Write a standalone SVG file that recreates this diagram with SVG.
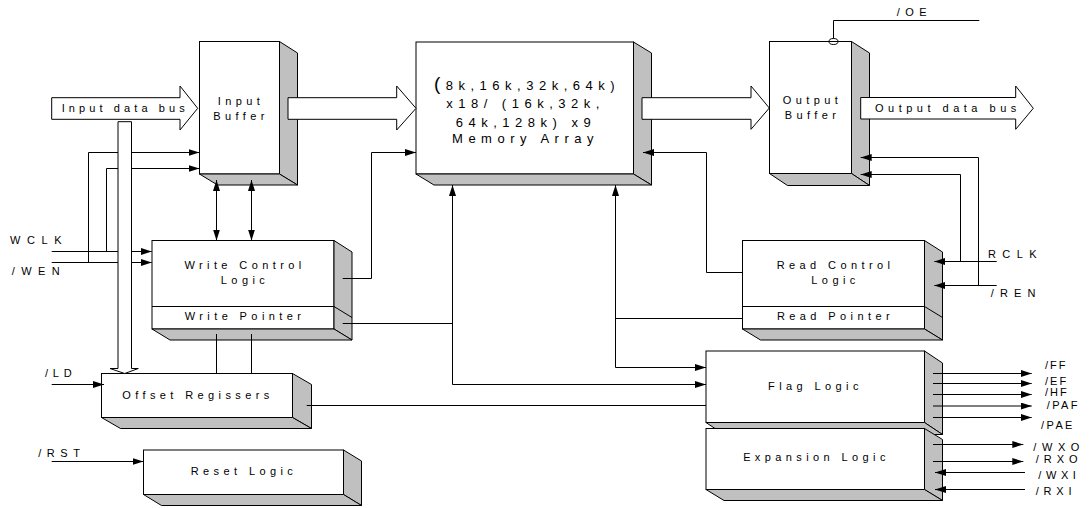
<svg xmlns="http://www.w3.org/2000/svg" width="1089" height="508" viewBox="0 0 1089 508">
<style>
.f{fill:#fff;stroke:#000;stroke-width:1}
.s{fill:#c0c0c0;stroke:#000;stroke-width:1}
.c{fill:none;stroke:#000;stroke-width:1}
.bus{fill:#fff;stroke:#000;stroke-width:1}
text{font-family:"Liberation Sans",Arial,sans-serif;font-size:11px;fill:#000}
.t{text-anchor:middle;letter-spacing:4.4px}
.m{font-size:13px;text-anchor:middle;letter-spacing:5.5px}
</style>
<defs>
<marker id="a" markerUnits="userSpaceOnUse" markerWidth="12" markerHeight="8" refX="11" refY="3.5" orient="auto-start-reverse">
<path d="M0,0 L11,3.5 L0,7 z" fill="#000"/>
</marker>
</defs>
<rect width="1089" height="508" fill="#fff"/>

<g id="input-buffer">
<rect class="f" x="199.5" y="41.5" width="80" height="132.5"/>
<polygon class="s" points="279.5,41.5 297.5,53 297.5,185 279.5,174"/>
<polygon class="s" points="199.5,174 279.5,174 297.5,185 217.5,185"/>
<text class="t" x="241" y="105">Input</text>
<text class="t" x="241" y="119.5">Buffer</text>
</g>

<g id="memory-array">
<rect class="f" x="416" y="42" width="217.5" height="132"/>
<polygon class="s" points="633.5,42 651.5,53 651.5,185 633.5,174"/>
<polygon class="s" points="416,174 633.5,174 651.5,185 434,185"/>
<text class="m" x="527" y="90"><tspan font-size="19px">(</tspan>8k,16k,32k,64k)</text>
<text class="m" x="525.5" y="108.3">x18/ (16k,32k,</text>
<text class="m" x="526" y="126.7">64k,128k) x9</text>
<text class="m" x="525.5" y="143.3">Memory Array</text>
</g>

<g id="output-buffer">
<rect class="f" x="769.5" y="41.5" width="82" height="132"/>
<polygon class="s" points="851.5,41.5 869.5,53 869.5,185.5 851.5,173.5"/>
<polygon class="s" points="769.5,173.5 851.5,173.5 869.5,185.5 787.5,185.5"/>
<ellipse cx="833.5" cy="41.5" rx="4.5" ry="3" fill="none" stroke="#000"/>
<text class="t" x="812.5" y="103.5">Output</text>
<text class="t" x="812.5" y="118.5">Buffer</text>
</g>

<g id="write-control">
<rect class="f" x="152" y="240.5" width="182" height="88.5"/>
<line class="c" x1="152" y1="306.5" x2="334" y2="306.5"/>
<polygon class="s" points="334,240.5 352,252 352,340 334,329"/>
<line class="c" x1="334" y1="306.5" x2="352" y2="317.5"/>
<polygon class="s" points="152,329 334,329 352,340 170,340"/>
<text class="t" x="245" y="269">Write Control</text>
<text class="t" x="245" y="284">Logic</text>
<text class="t" x="245" y="320">Write Pointer</text>
</g>

<g id="read-control">
<rect class="f" x="742.5" y="240.5" width="182" height="88.5"/>
<line class="c" x1="742.5" y1="306.5" x2="924.5" y2="306.5"/>
<polygon class="s" points="924.5,240.5 942.5,252 942.5,340 924.5,329"/>
<line class="c" x1="924.5" y1="306.5" x2="942.5" y2="317.5"/>
<polygon class="s" points="742.5,329 924.5,329 942.5,340 760.5,340"/>
<text class="t" x="835.5" y="269">Read Control</text>
<text class="t" x="835.5" y="284">Logic</text>
<text class="t" x="835.5" y="320">Read Pointer</text>
</g>

<g id="offset-registers">
<rect class="f" x="101.5" y="373.5" width="191" height="44"/>
<polygon class="s" points="292.5,373.5 311.5,384.5 311.5,428.5 292.5,417.5"/>
<polygon class="s" points="101.5,417.5 292.5,417.5 311.5,428.5 120.5,428.5"/>
<text class="t" x="198" y="398.5">Offset Regissers</text>
</g>

<g id="reset-logic">
<rect class="f" x="143.5" y="450" width="200" height="44.5"/>
<polygon class="s" points="343.5,450 361.5,461 361.5,505.5 343.5,494.5"/>
<polygon class="s" points="143.5,494.5 343.5,494.5 361.5,505.5 161.5,505.5"/>
<text class="t" x="244" y="475">Reset Logic</text>
</g>

<g id="flag-logic">
<rect class="f" x="706" y="351" width="218.5" height="71.5"/>
<polygon class="s" points="924.5,351 942.5,363 942.5,434.5 924.5,422.5"/>
<polygon class="s" points="706,422.5 924.5,422.5 942.5,434.5 724,434.5"/>
<text class="t" x="815.5" y="390">Flag Logic</text>
</g>

<g id="expansion-logic">
<rect class="f" x="706" y="428.5" width="218.5" height="61"/>
<polygon class="s" points="924.5,428.5 942.5,439.5 942.5,500.5 924.5,489.5"/>
<polygon class="s" points="706,489.5 924.5,489.5 942.5,500.5 724,500.5"/>
<text class="t" x="816.5" y="461">Expansion Logic</text>
</g>

<g id="connectors">
<path class="c" d="M51.7,262.5 H151.7" marker-end="url(#a)"/>
<path class="c" d="M88.5,262.5 V152.5 H199.5" marker-end="url(#a)"/>
<path class="c" d="M51.7,251.5 H151.7" marker-end="url(#a)"/>
<path class="c" d="M106.5,251.5 V168.5 H199.5" marker-end="url(#a)"/>
<path class="c" d="M216.5,180 V240.5" marker-start="url(#a)" marker-end="url(#a)"/>
<path class="c" d="M251.5,180 V240.5" marker-start="url(#a)" marker-end="url(#a)"/>
<path class="c" d="M216.5,334 V373.5 M251.5,334 V373.5"/>
<path class="c" d="M342.7,278.5 H371.5 V152.5 H416" marker-end="url(#a)"/>
<path class="c" d="M342.7,323.5 H452.5"/>
<path class="c" d="M452.5,384.5 V185" marker-end="url(#a)"/>
<path class="c" d="M452.5,384.5 H706" marker-end="url(#a)"/>
<path class="c" d="M742.5,318.5 H615.5"/>
<path class="c" d="M615.5,367.5 V185" marker-end="url(#a)"/>
<path class="c" d="M615.5,367.5 H706" marker-end="url(#a)"/>
<path class="c" d="M742.5,272.5 H706.5 V152.5 H643" marker-end="url(#a)"/>
<path class="c" d="M996.7,261.5 H934.3" marker-end="url(#a)"/>
<path class="c" d="M960.5,261.5 V174.5 H860.7" marker-end="url(#a)"/>
<path class="c" d="M996.7,285.5 H934.3" marker-end="url(#a)"/>
<path class="c" d="M978.5,285.5 V157.5 H860.7" marker-end="url(#a)"/>
<path class="c" d="M833.5,38.5 V20.5 H979.3"/>
<path class="c" d="M51.7,384.5 H104" marker-end="url(#a)"/>
<path class="c" d="M51.7,461.5 H143.5" marker-end="url(#a)"/>
<path class="c" d="M306.7,405.5 H706"/>
<path class="c" d="M933,373.5 H1031.7" marker-end="url(#a)"/>
<path class="c" d="M933,383.5 H1031.7" marker-end="url(#a)"/>
<path class="c" d="M933,394.5 H1031.7" marker-end="url(#a)"/>
<path class="c" d="M933,406 H1031.7" marker-end="url(#a)"/>
<path class="c" d="M933,417.5 H1031.7" marker-end="url(#a)"/>
<path class="c" d="M933,444.5 H1023.3" marker-end="url(#a)"/>
<path class="c" d="M933,461.5 H1023.3" marker-end="url(#a)"/>
<path class="c" d="M1025,472.5 H935" marker-end="url(#a)"/>
<path class="c" d="M1025,489.5 H935" marker-end="url(#a)"/>
<polygon class="bus" points="118,121.7 131.5,121.7 131.5,368.5 138.3,368.5 124.7,373.5 110,368.5 118,368.5"/>
<polygon class="bus" points="288,97.7 396.7,97.7 396.7,86 416,108.3 396.7,130 396.7,119.3 288,119.3"/>
<polygon class="bus" points="642,97.7 751,97.7 751,86 769.3,108 751,129.3 751,119.3 642,119.3"/>
</g>

<g id="input-bus">
<polygon class="bus" points="51.7,97.7 180,97.7 180,86 197.7,108.3 180,130 180,119.3 51.7,119.3"/>
<text x="61.7" y="112" style="letter-spacing:4.1px">Input data bus</text>
</g>

<g id="output-bus">
<polygon class="bus" points="860.7,97.5 1015.7,97.5 1015.7,86 1033.3,108.3 1015.7,129.3 1015.7,119 860.7,119"/>
<text x="875" y="112" style="letter-spacing:4.5px">Output data bus</text>
</g>

<g id="labels">
<text x="10" y="243.5" style="letter-spacing:6.6px">WCLK</text>
<text x="11.7" y="275" style="letter-spacing:6.4px">/WEN</text>
<text x="45" y="377" style="letter-spacing:4.8px">/LD</text>
<text x="38.3" y="457" style="letter-spacing:5.5px">/RST</text>
<text x="896.7" y="16" style="letter-spacing:5.5px">/OE</text>
<text x="988" y="257.5" style="letter-spacing:6.4px">RCLK</text>
<text x="990.7" y="297" style="letter-spacing:6.2px">/REN</text>
<text x="1045" y="368.5" style="letter-spacing:2px">/FF</text>
<text x="1045" y="385" style="letter-spacing:2px">/EF</text>
<text x="1045" y="396" style="letter-spacing:2px">/HF</text>
<text x="1046.7" y="408.5" style="letter-spacing:2.4px">/PAF</text>
<text x="1041" y="428.5" style="letter-spacing:2.4px">/PAE</text>
<text x="1033.3" y="451" style="letter-spacing:5.6px">/WXO</text>
<text x="1035.7" y="463" style="letter-spacing:5px">/RXO</text>
<text x="1038.3" y="478.5" style="letter-spacing:4.6px">/WXI</text>
<text x="1035.7" y="495" style="letter-spacing:4.8px">/RXI</text>
</g>
</svg>
